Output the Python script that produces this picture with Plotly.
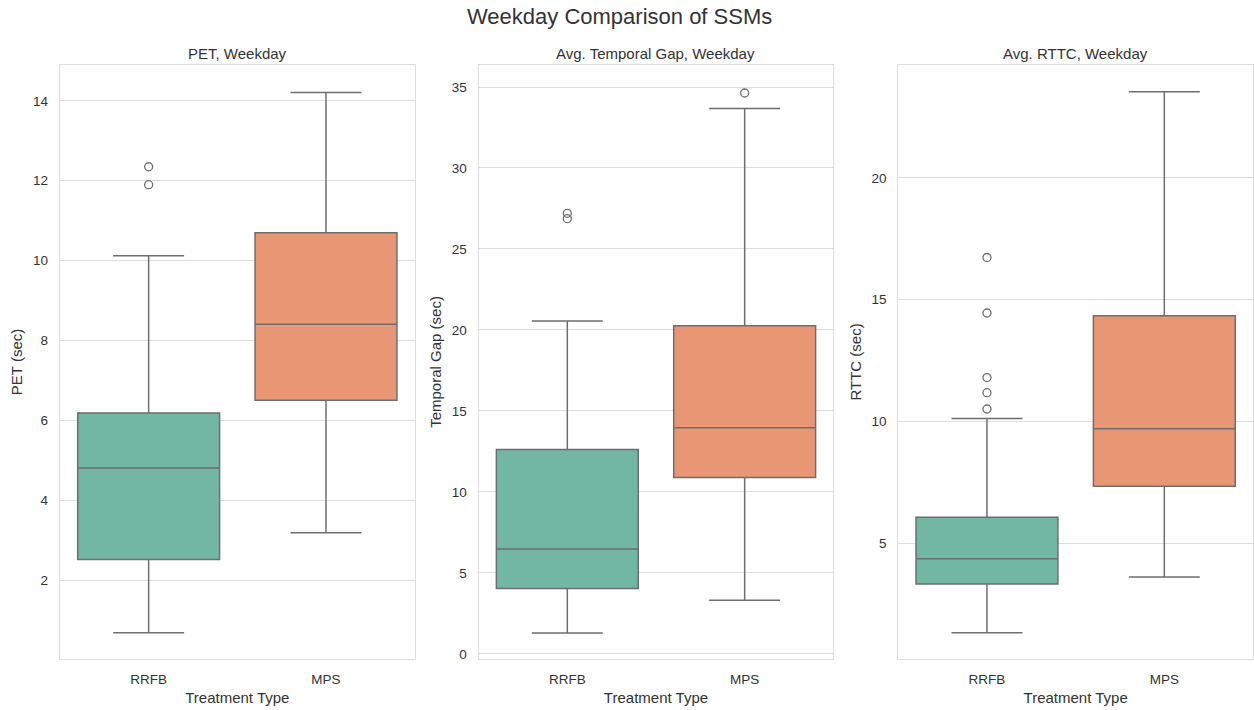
import plotly.graph_objects as go

# Treatment categories and box colours (Set2, softened)
categories = ["RRFB", "MPS"]
box_colors = ["#71b7a1", "#e99675"]

# Summary statistics per metric: [RRFB, MPS]
pet_q1 = [2.52, 6.51]
pet_median = [4.81, 8.41]
pet_q3 = [6.19, 10.70]
pet_lower = [0.69, 3.19]
pet_upper = [10.12, 14.21]
pet_outliers = [[12.35, 11.90], []]

gap_q1 = [4.03, 10.88]
gap_median = [6.47, 13.96]
gap_q3 = [12.62, 20.26]
gap_lower = [1.29, 3.31]
gap_upper = [20.55, 33.67]
gap_outliers = [[27.20, 26.87], [34.63]]

rttc_q1 = [3.33, 7.34]
rttc_median = [4.36, 9.70]
rttc_q3 = [6.07, 14.34]
rttc_lower = [1.32, 3.61]
rttc_upper = [10.12, 23.53]
rttc_outliers = [[10.51, 11.18, 11.80, 14.45, 16.73], []]

panels = [
    ("PET, Weekday", "PET (sec)", pet_q1, pet_median, pet_q3, pet_lower, pet_upper, pet_outliers, [0.03, 14.9], [2, 4, 6, 8, 10, 12, 14]),
    ("Avg. Temporal Gap, Weekday", "Temporal Gap (sec)", gap_q1, gap_median, gap_q3, gap_lower, gap_upper, gap_outliers, [-0.33, 36.37], [0, 5, 10, 15, 20, 25, 30, 35]),
    ("Avg. RTTC, Weekday", "RTTC (sec)", rttc_q1, rttc_median, rttc_q3, rttc_lower, rttc_upper, rttc_outliers, [0.24, 24.64], [5, 10, 15, 20]),
]

W, H = 1254, 710
x_domains = [[60 / W, 415 / W], [479 / W, 834 / W], [899 / W, 1.0]]
y_domain = [(H - 661) / H, (H - 65) / H]

LINE = "#6e6e6e"
GRID = "#dedede"
TEXT = "#333333"
FONT = "Liberation Sans, Arial, sans-serif"
TICK_SIZE = 13.5
LABEL_SIZE = 15

fig = go.Figure()
annotations = []

for i, (title, ytitle, q1, med, q3, lo, hi, outs, yr, tv) in enumerate(panels):
    xa = "x" if i == 0 else f"x{i + 1}"
    ya = "y" if i == 0 else f"y{i + 1}"
    for j, cat in enumerate(categories):
        fig.add_trace(go.Box(
            x=[cat], q1=[q1[j]], median=[med[j]], q3=[q3[j]],
            lowerfence=[lo[j]], upperfence=[hi[j]],
            width=0.8, whiskerwidth=0.5, boxpoints=False,
            fillcolor=box_colors[j], line=dict(color=LINE, width=1.5),
            xaxis=xa, yaxis=ya, showlegend=False, hoverinfo="skip",
        ))
        if outs[j]:
            fig.add_trace(go.Scatter(
                x=[cat] * len(outs[j]), y=outs[j], mode="markers",
                marker=dict(symbol="circle-open", size=8, color=LINE, line=dict(width=1.3)),
                xaxis=xa, yaxis=ya, showlegend=False, hoverinfo="skip",
            ))

    axis_common = dict(showline=True, mirror=True, linecolor=GRID, linewidth=1.3,
                       tickfont=dict(size=TICK_SIZE, color=TEXT, family=FONT), zeroline=False)
    fig.layout[f"xaxis{'' if i == 0 else i + 1}"] = dict(
        domain=x_domains[i], anchor=ya, showgrid=False, range=[-0.5, 1.5],
        categoryorder="array", categoryarray=categories,
        ticks="outside", ticklen=8, tickcolor="rgba(0,0,0,0)",
        title=dict(text="Treatment Type", font=dict(size=LABEL_SIZE, color=TEXT, family=FONT), standoff=6),
        **axis_common,
    )
    fig.layout[f"yaxis{'' if i == 0 else i + 1}"] = dict(
        domain=y_domain, anchor=xa, range=yr, tickvals=tv,
        showgrid=True, gridcolor=GRID, gridwidth=1.2,
        ticks="outside", ticklen=8, tickcolor="rgba(0,0,0,0)",
        title=dict(text=ytitle, font=dict(size=LABEL_SIZE, color=TEXT, family=FONT), standoff=6),
        **axis_common,
    )
    annotations.append(dict(
        text=title, x=sum(x_domains[i]) / 2, y=(H - 54) / H, xref="paper", yref="paper",
        xanchor="center", yanchor="middle", showarrow=False,
        font=dict(size=LABEL_SIZE, color=TEXT, family=FONT),
    ))

annotations.append(dict(
    text="Weekday Comparison of SSMs", x=620 / W, y=(H - 17) / H, xref="paper", yref="paper",
    xanchor="center", yanchor="middle", showarrow=False,
    font=dict(size=22, color=TEXT, family=FONT),
))

fig.update_layout(
    width=W, height=H, margin=dict(l=0, r=0, t=0, b=0),
    paper_bgcolor="white", plot_bgcolor="white",
    boxmode="overlay", annotations=annotations,
    font=dict(family=FONT, color=TEXT),
)

fig.write_html("out.html")
